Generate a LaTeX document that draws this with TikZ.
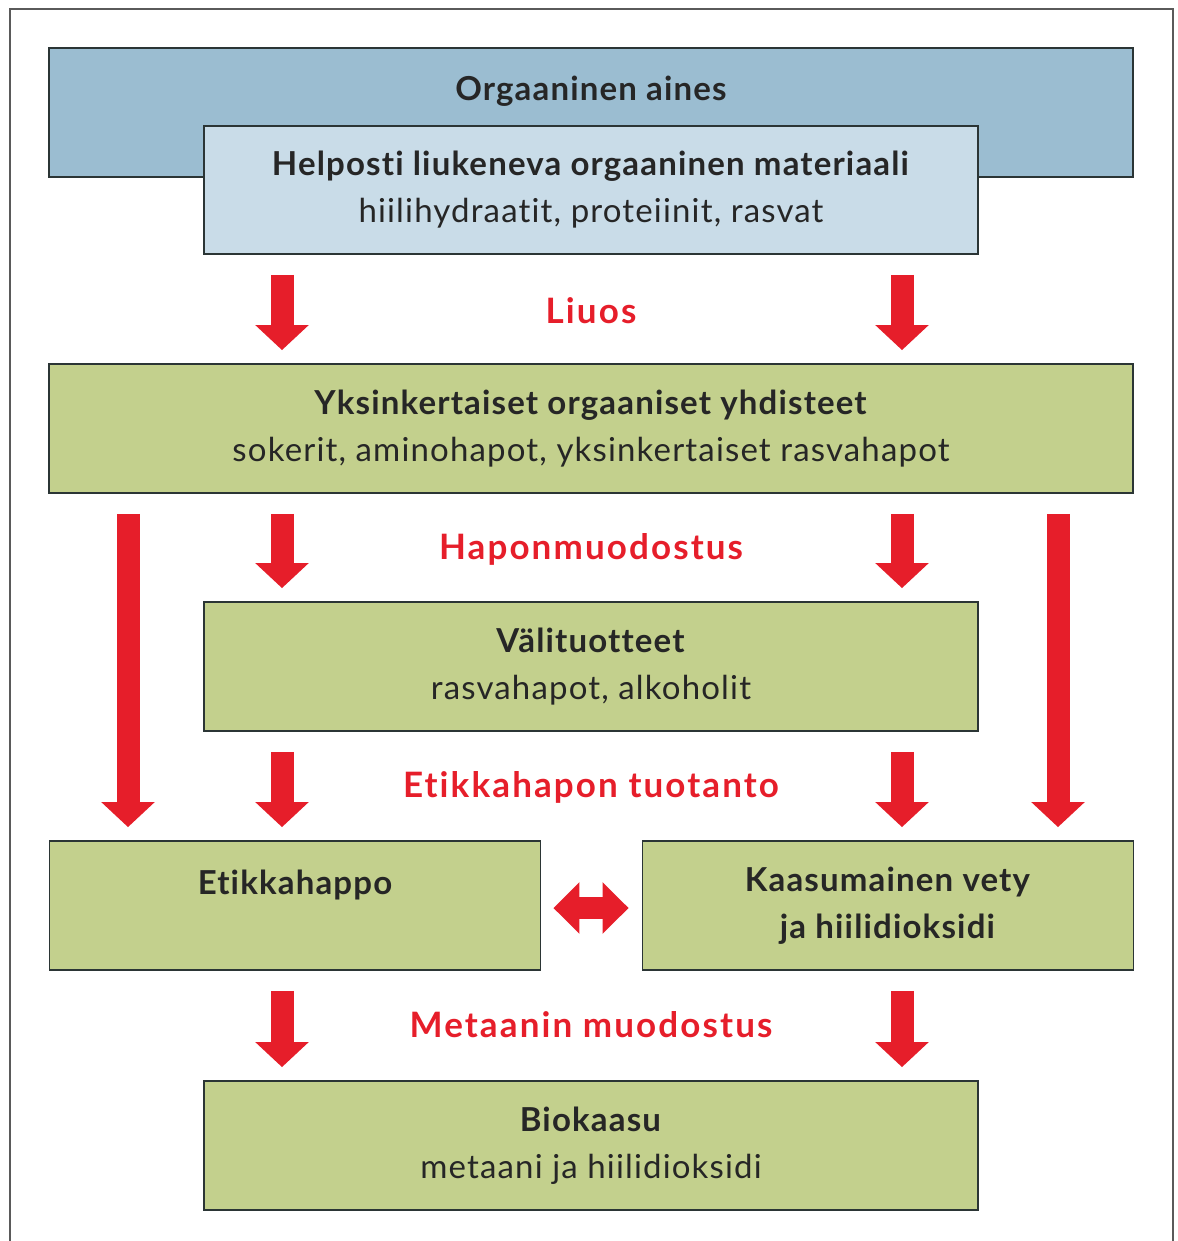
\documentclass[tikz,border=0pt]{standalone}
\usepackage{fontspec}
\setmainfont[Ligatures=NoCommon, LetterSpace=3.5]{Lato}
\usepackage{tikz}
\usetikzlibrary{arrows.meta, positioning, calc}
\definecolor{frame}{HTML}{5A5A5A}
\definecolor{edge}{HTML}{2B3535}
\definecolor{ink}{HTML}{262626}
\definecolor{deepsky}{HTML}{9BBDD1}
\definecolor{palesky}{HTML}{C9DCE8}
\definecolor{leaf}{HTML}{C3D08D}
\definecolor{signal}{HTML}{E61E2A}

\begin{document}
\begin{tikzpicture}[
  x=1pt, y=-1pt,
  box/.style={rectangle, draw=edge, line width=1.8pt, fill=leaf,
              minimum width=774pt, minimum height=129pt, inner sep=0pt,
              align=center, text=ink, font=\fontsize{33}{47}\selectfont},
  wide/.style={box, minimum width=1084pt},
  half/.style={box, minimum width=491pt},
  stage/.style={text=signal,
                font=\fontsize{35}{40}\selectfont\bfseries\addfontfeatures{LetterSpace=6}},
  nuoli/.style={draw=signal, line width=23pt,
                -{Triangle[width=52pt, length=25pt]}},
  kaksi/.style={draw=signal, line width=22pt,
                {Triangle[width=50pt, length=26pt]}-{Triangle[width=50pt, length=26pt]}}
]
  \useasboundingbox (0,0) rectangle (1177,1241);
  \draw[frame, line width=2pt] (10,1260) -- (10,9) -- (1173,9) -- (1173,1260);

  \coordinate (lx) at (282,0);
  \coordinate (rx) at (902,0);
  \coordinate (llx) at (128,0);
  \coordinate (rrx) at (1058,0);

  % boxes
  \node[wide, fill=deepsky, label={[anchor=north, yshift=-25pt, text=ink,
        font=\fontsize{33}{47}\selectfont\bfseries]north:Orgaaninen aines}]
        (aines) at (591,112.5) {};
  \node[box, fill=palesky, minimum height=128pt] (hel) at (591,190)
        {\textbf{Helposti liukeneva orgaaninen materiaali}\\hiilihydraatit, proteiinit, rasvat};
  \node[wide] (yks) at (591,428.5)
        {\textbf{Yksinkertaiset orgaaniset yhdisteet}\\sokerit, aminohapot, yksinkertaiset rasvahapot};
  \node[box] (vali) at (591,666.5)
        {\textbf{Välituotteet}\\rasvahapot, alkoholit};
  \node[half, label={[anchor=north, yshift=-26pt, text=ink,
        font=\fontsize{33}{47}\selectfont\bfseries]north:Etikkahappo}]
        (etikka) at (295,905.5) {};
  \node[half] (kaasu) at (888,905.5)
        {\textbf{Kaasumainen vety}\\\textbf{ja hiilidioksidi}};
  \node[box] (bio) at (591,1145.5)
        {\textbf{Biokaasu}\\metaani ja hiilidioksidi};

  % stages
  \node[stage] (liuos) at (591,311) {Liuos};
  \node[stage] (hapon) at (591,549) {Haponmuodostus};
  \node[stage] (tuot) at (591,787) {Etikkahapon tuotanto};
  \node[stage] (metaani) at (591,1025) {Metaanin muodostus};

  % arrows
  \foreach \a/\b in {hel/yks, yks/vali, vali/etikka, etikka/bio} {
    \draw[nuoli] ([yshift=-20pt]\a.south -| lx) -- ([yshift=13pt]\b.north -| lx);
  }
  \foreach \a/\b in {hel/yks, yks/vali, vali/kaasu, kaasu/bio} {
    \draw[nuoli] ([yshift=-20pt]\a.south -| rx) -- ([yshift=13pt]\b.north -| rx);
  }
  \draw[nuoli] ([yshift=-20pt]yks.south -| llx) -- ([yshift=13pt]etikka.north -| llx);
  \draw[nuoli] ([yshift=-20pt]yks.south -| rrx) -- ([yshift=13pt]kaasu.north -| rrx);
  \draw[kaksi] ([xshift=12pt,yshift=-2.5pt]etikka.east) -- ([xshift=-13pt,yshift=-2.5pt]kaasu.west);
\end{tikzpicture}
\end{document}
